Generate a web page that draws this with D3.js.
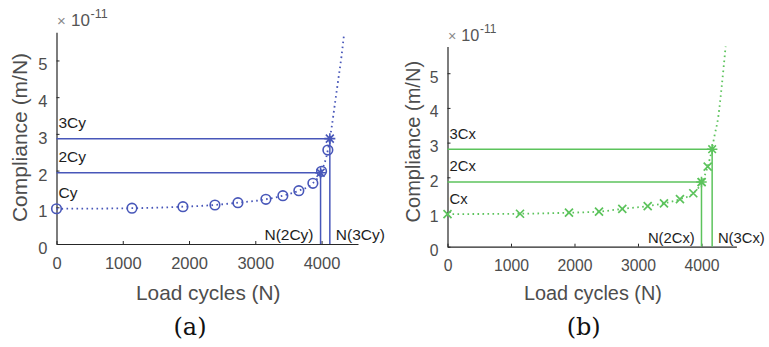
<!DOCTYPE html>
<html>
<head>
<meta charset="utf-8">
<script src="https://cdn.jsdelivr.net/npm/d3@7"></script>
<style>
  body { margin: 0; background: #fff; }
  text { font-family: "Liberation Sans", Arial, sans-serif; }
</style>
</head>
<body>
<div id="chart"></div>
<script>
// axes
var xTicks = [0, 1000, 2000, 3000, 4000];
var yTicks = [0, 1, 2, 3, 4, 5];
var xMax = 4550;
var yMax = 5.77;

// (a) compliance Cy, circles
var cyclesY = [0, 1139, 1908, 2391, 2738, 3160, 3416, 3657, 3869, 4000, 4095];
var complianceY = [0.96, 0.975, 1.016, 1.063, 1.125, 1.218, 1.316, 1.452, 1.654, 1.98, 2.56];
var fitCyclesY = [0, 1139, 1908, 2391, 2738, 3160, 3416, 3657, 3869, 3990, 4095, 4125, 4150, 4200, 4250, 4300, 4340];
var fitComplianceY = [0.96, 0.975, 1.016, 1.063, 1.125, 1.218, 1.316, 1.452, 1.654, 1.95, 2.56, 2.87, 3.15, 3.8, 4.45, 5.1, 5.72];
var levelNamesY = ['Cy', '2Cy', '3Cy'];
var levelValuesY = [0.96, 1.94, 2.87];
var levelCyclesY = [0, 3985, 4125];

// (b) compliance Cx, crosses
var cyclesX = [0, 1142, 1913, 2386, 2753, 3153, 3409, 3661, 3871, 4003, 4098];
var complianceX = [0.94, 0.95, 0.98, 1.01, 1.09, 1.17, 1.25, 1.37, 1.54, 1.86, 2.31];
var fitCyclesX = [0, 1142, 1913, 2386, 2753, 3153, 3409, 3661, 3871, 4003, 4098, 4165, 4202, 4265, 4318, 4380];
var fitComplianceX = [0.94, 0.95, 0.98, 1.01, 1.09, 1.17, 1.25, 1.37, 1.54, 1.86, 2.31, 2.81, 3.17, 3.75, 4.61, 5.77];
var levelNamesX = ['Cx', '2Cx', '3Cx'];
var levelValuesX = [0.935, 1.865, 2.81];
var levelCyclesX = [0, 4000, 4168];

var width = 769, height = 347;

var svg = d3.select('#chart').append('svg')
    .attr('width', width)
    .attr('height', height);

var panels = [
  {left: 56.5, right: 358, bottom: 244, top: 32.2, s: 1,
   color: '#4857b9', marker: 'circle', caption: '(a)', capX: 190,
   cycles: cyclesY, comp: complianceY, fitC: fitCyclesY, fitV: fitComplianceY,
   names: levelNamesY, values: levelValuesY, at: levelCyclesY,
   yLabX: 27, yLabY: 137.5},
  {left: 447.5, right: 736.4, bottom: 246.7, top: 46.5, s: 0.955,
   color: '#5cc35c', marker: 'x', caption: '(b)', capX: 583.7,
   cycles: cyclesX, comp: complianceX, fitC: fitCyclesX, fitV: fitComplianceX,
   names: levelNamesX, values: levelValuesX, at: levelCyclesX,
   yLabX: 419.5, yLabY: 141.7}
];

function crossPath(r) {
  return 'M' + (-r) + ',' + (-r) + 'L' + r + ',' + r + 'M' + (-r) + ',' + r + 'L' + r + ',' + (-r);
}
function starPath(r) {
  var d = r * 0.72;
  return crossPath(d) + 'M' + (-r) + ',0L' + r + ',0M0,' + (-r) + 'L0,' + r;
}

panels.forEach(function(p) {
  var s = p.s;
  var x = d3.scaleLinear().domain([0, xMax]).range([p.left, p.right]);
  var y = d3.scaleLinear().domain([0, yMax]).range([p.bottom, p.top]);
  var g = svg.append('g');

  // axes
  var xAxis = g.append('g')
      .attr('transform', 'translate(0,' + p.bottom + ')')
      .call(d3.axisBottom(x).tickValues(xTicks).tickSizeInner(-3).tickSizeOuter(0).tickFormat(d3.format('d')));
  xAxis.selectAll('text')
      .attr('y', 26 * s - 1)
      .attr('dy', null);

  var yAxis = g.append('g')
      .attr('transform', 'translate(' + p.left + ',0)')
      .call(d3.axisLeft(y).tickValues(yTicks).tickSizeInner(-3).tickSizeOuter(0).tickFormat(d3.format('d')));
  yAxis.selectAll('text')
      .attr('x', -9)
      .attr('dy', null)
      .attr('y', 9.5 * s);

  g.selectAll('.tick text')
      .attr('font-size', 16.5 * s)
      .attr('fill', '#4d4d4d');
  xAxis.attr('font-family', null).attr('font-size', null);
  yAxis.attr('font-family', null).attr('font-size', null);
  g.selectAll('.domain').attr('stroke', '#262626').attr('stroke-width', 1.2);
  g.selectAll('.tick line').attr('stroke', '#262626');

  // exponent  x10^-11
  var ey = p.top - 6 * s;
  g.append('text')
      .attr('x', p.left + 0.5)
      .attr('y', ey)
      .attr('font-size', 15 * s)
      .attr('fill', '#8a8a8a')
      .text('\u00d7');
  g.append('text')
      .attr('x', p.left + 14.5 * s)
      .attr('y', ey)
      .attr('font-size', 17 * s)
      .attr('fill', '#555')
      .text('10');
  g.append('text')
      .attr('x', p.left + 34 * s)
      .attr('y', ey - 8 * s)
      .attr('font-size', 12.5 * s)
      .attr('fill', '#555')
      .text('-11');

  // axis labels
  g.append('text')
      .attr('x', (p.left + p.right) / 2 + 1)
      .attr('y', 300)
      .attr('text-anchor', 'middle')
      .attr('fill', '#4d4d4d')
      .attr('font-size', 20.8 * s)
      .text('Load cycles (N)');

  g.append('text')
      .attr('transform', 'translate(' + p.yLabX + ',' + p.yLabY + ') rotate(-90)')
      .attr('text-anchor', 'middle')
      .attr('fill', '#4d4d4d')
      .attr('font-size', 21 * s)
      .text('Compliance (m/N)');

  // threshold lines 2C, 3C
  var lv = [1, 2];
  g.selectAll('.hline').data(lv).enter().append('line')
      .attr('x1', p.left)
      .attr('x2', function(i) { return x(p.at[i]); })
      .attr('y1', function(i) { return y(p.values[i]); })
      .attr('y2', function(i) { return y(p.values[i]); })
      .attr('stroke', p.color)
      .attr('stroke-width', 1.5);
  g.selectAll('.vline').data(lv).enter().append('line')
      .attr('x1', function(i) { return x(p.at[i]); })
      .attr('x2', function(i) { return x(p.at[i]); })
      .attr('y1', p.bottom)
      .attr('y2', function(i) { return y(p.values[i]); })
      .attr('stroke', p.color)
      .attr('stroke-width', 1.5);

  // fitted dotted curve
  var pts = p.fitC.map(function(c, i) { return [c, p.fitV[i]]; });
  var line = d3.line()
      .x(function(d) { return x(d[0]); })
      .y(function(d) { return y(d[1]); })
      .curve(d3.curveMonotoneX);
  g.append('path')
      .attr('d', line(pts))
      .attr('fill', 'none')
      .attr('stroke', p.color)
      .attr('stroke-width', 1.8)
      .attr('stroke-dasharray', '1.6,3.4');

  // markers
  var data = p.cycles.map(function(c, i) { return [c, p.comp[i]]; });
  if (p.marker === 'circle') {
    g.selectAll('.mk').data(data).enter().append('circle')
        .attr('cx', function(d) { return x(d[0]); })
        .attr('cy', function(d) { return y(d[1]); })
        .attr('r', 4.8)
        .attr('fill', 'none')
        .attr('stroke', p.color)
        .attr('stroke-width', 1.6);
  } else {
    g.selectAll('.mk').data(data).enter().append('path')
        .attr('transform', function(d) { return 'translate(' + x(d[0]) + ',' + y(d[1]) + ')'; })
        .attr('d', crossPath(4))
        .attr('fill', 'none')
        .attr('stroke', p.color)
        .attr('stroke-width', 1.7);
  }

  // stars at 2C and 3C
  g.selectAll('.star').data(lv).enter().append('path')
      .attr('transform', function(i) { return 'translate(' + x(p.at[i]) + ',' + y(p.values[i]) + ')'; })
      .attr('d', starPath(5.5 * s))
      .attr('fill', 'none')
      .attr('stroke', p.color)
      .attr('stroke-width', 1.6);

  // level labels
  g.selectAll('.lvl').data([0, 1, 2]).enter().append('text')
      .attr('x', p.left + 2)
      .attr('y', function(i) { return y(p.values[i]) - 11 * s; })
      .attr('fill', '#1e1e1e')
      .attr('font-size', 15.5 * s)
      .text(function(i) { return p.names[i]; });

  g.append('text')
      .attr('x', x(p.at[1]) - 7 * s)
      .attr('y', p.bottom - 4 * s)
      .attr('text-anchor', 'end')
      .attr('fill', '#1e1e1e')
      .attr('font-size', 15.5 * s)
      .text('N(' + p.names[1] + ')');
  g.append('text')
      .attr('x', x(p.at[2]) + 6 * s)
      .attr('y', p.bottom - 4 * s)
      .attr('fill', '#1e1e1e')
      .attr('font-size', 15.5 * s)
      .text('N(' + p.names[2] + ')');

  // caption
  g.append('text')
      .attr('x', p.capX)
      .attr('y', 335)
      .attr('text-anchor', 'middle')
      .attr('fill', '#111')
      .style('font-family', '"DejaVu Serif", serif')
      .attr('font-size', 24)
      .text(p.caption);
});
</script>
</body>
</html>
